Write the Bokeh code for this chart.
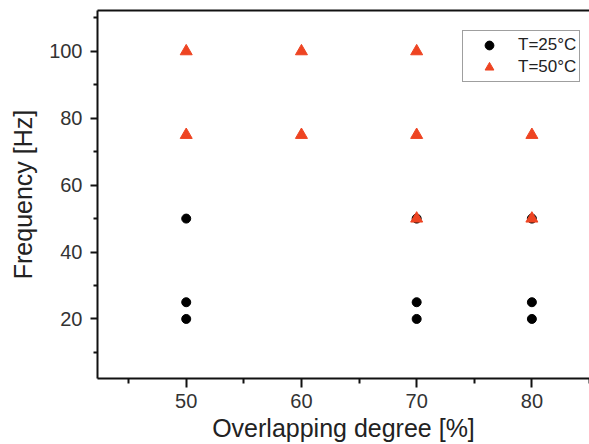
from bokeh.plotting import figure
from bokeh.models import FixedTicker, LinearAxis, Range1d, Legend, LegendItem
from bokeh.embed import file_html
from bokeh.resources import INLINE

# Data
x25 = [50, 50, 50, 70, 70, 70, 80, 80, 80]
y25 = [20, 25, 50, 20, 25, 50, 20, 25, 50]
x50 = [50, 50, 60, 60, 70, 70, 70, 80, 80]
y50 = [75, 100, 75, 100, 50, 75, 100, 50, 75]
x_major = [50, 60, 70, 80]
x_minor = [45, 55, 65, 75, 85]
y_major = [20, 40, 60, 80, 100]
y_minor = [10, 30, 50, 70, 90, 110]

FONT = "Liberation Sans"
TXT = "#222222"

p = figure(width=589, height=444, output_backend="svg", toolbar_location=None,
           x_range=Range1d(42.3, 85.0), y_range=Range1d(2.2, 112.2),
           min_border_left=97, min_border_right=0, min_border_top=10, min_border_bottom=66)
p.outline_line_color = None
p.xgrid.visible = False
p.ygrid.visible = False
p.background_fill_color = "white"
p.border_fill_color = "white"

r1 = p.scatter(x25, y25, marker="circle", size=9, fill_color="black", line_color="black")
r2 = p.scatter(x50, y50, marker="triangle", size=12, fill_color="#ee4422", line_color="#ee4422")

for ax, ticks, minor, lab in [(p.xaxis[0], x_major, x_minor, "Overlapping degree [%]"),
                               (p.yaxis[0], y_major, y_minor, "Frequency [Hz]")]:
    ax.ticker = FixedTicker(ticks=ticks, minor_ticks=minor)
    ax.axis_label = lab
    ax.axis_label_text_font = FONT
    ax.axis_label_text_font_style = "normal"
    ax.axis_label_text_font_size = "25px"
    ax.axis_label_text_color = TXT
    ax.major_label_text_font = FONT
    ax.major_label_text_font_size = "20px"
    ax.major_label_text_color = "#333333"
    ax.axis_line_width = 2
    ax.axis_line_color = "#111111"
    ax.major_tick_line_width = 2
    ax.minor_tick_line_width = 2
    ax.major_tick_line_color = "#111111"
    ax.minor_tick_line_color = "#111111"
    ax.major_tick_in = 0
    ax.minor_tick_in = 0

p.xaxis[0].major_tick_out = 9
p.xaxis[0].minor_tick_out = 5
p.xaxis[0].major_label_standoff = 6
p.xaxis[0].axis_label_standoff = 3
p.yaxis[0].major_tick_out = 7
p.yaxis[0].minor_tick_out = 4
p.yaxis[0].major_label_standoff = 8
p.yaxis[0].axis_label_standoff = 9

top = LinearAxis(ticker=FixedTicker(ticks=[]), axis_line_width=2, axis_line_color="#111111",
                 major_tick_line_color=None, minor_tick_line_color=None)
p.add_layout(top, "above")

legend = Legend(items=[LegendItem(label="T=25°C", renderers=[r1]),
                       LegendItem(label="T=50°C", renderers=[r2])],
                location=(365, 296), margin=0, padding=3, spacing=0,
                glyph_width=46, glyph_height=22, label_height=22, label_standoff=6,
                label_text_font=FONT, label_text_font_size="17px", label_text_color=TXT,
                border_line_color="#404040", border_line_width=1.5,
                background_fill_color="white", background_fill_alpha=1.0)
p.add_layout(legend, "center")

open("out.html", "w").write(file_html(p, INLINE))
